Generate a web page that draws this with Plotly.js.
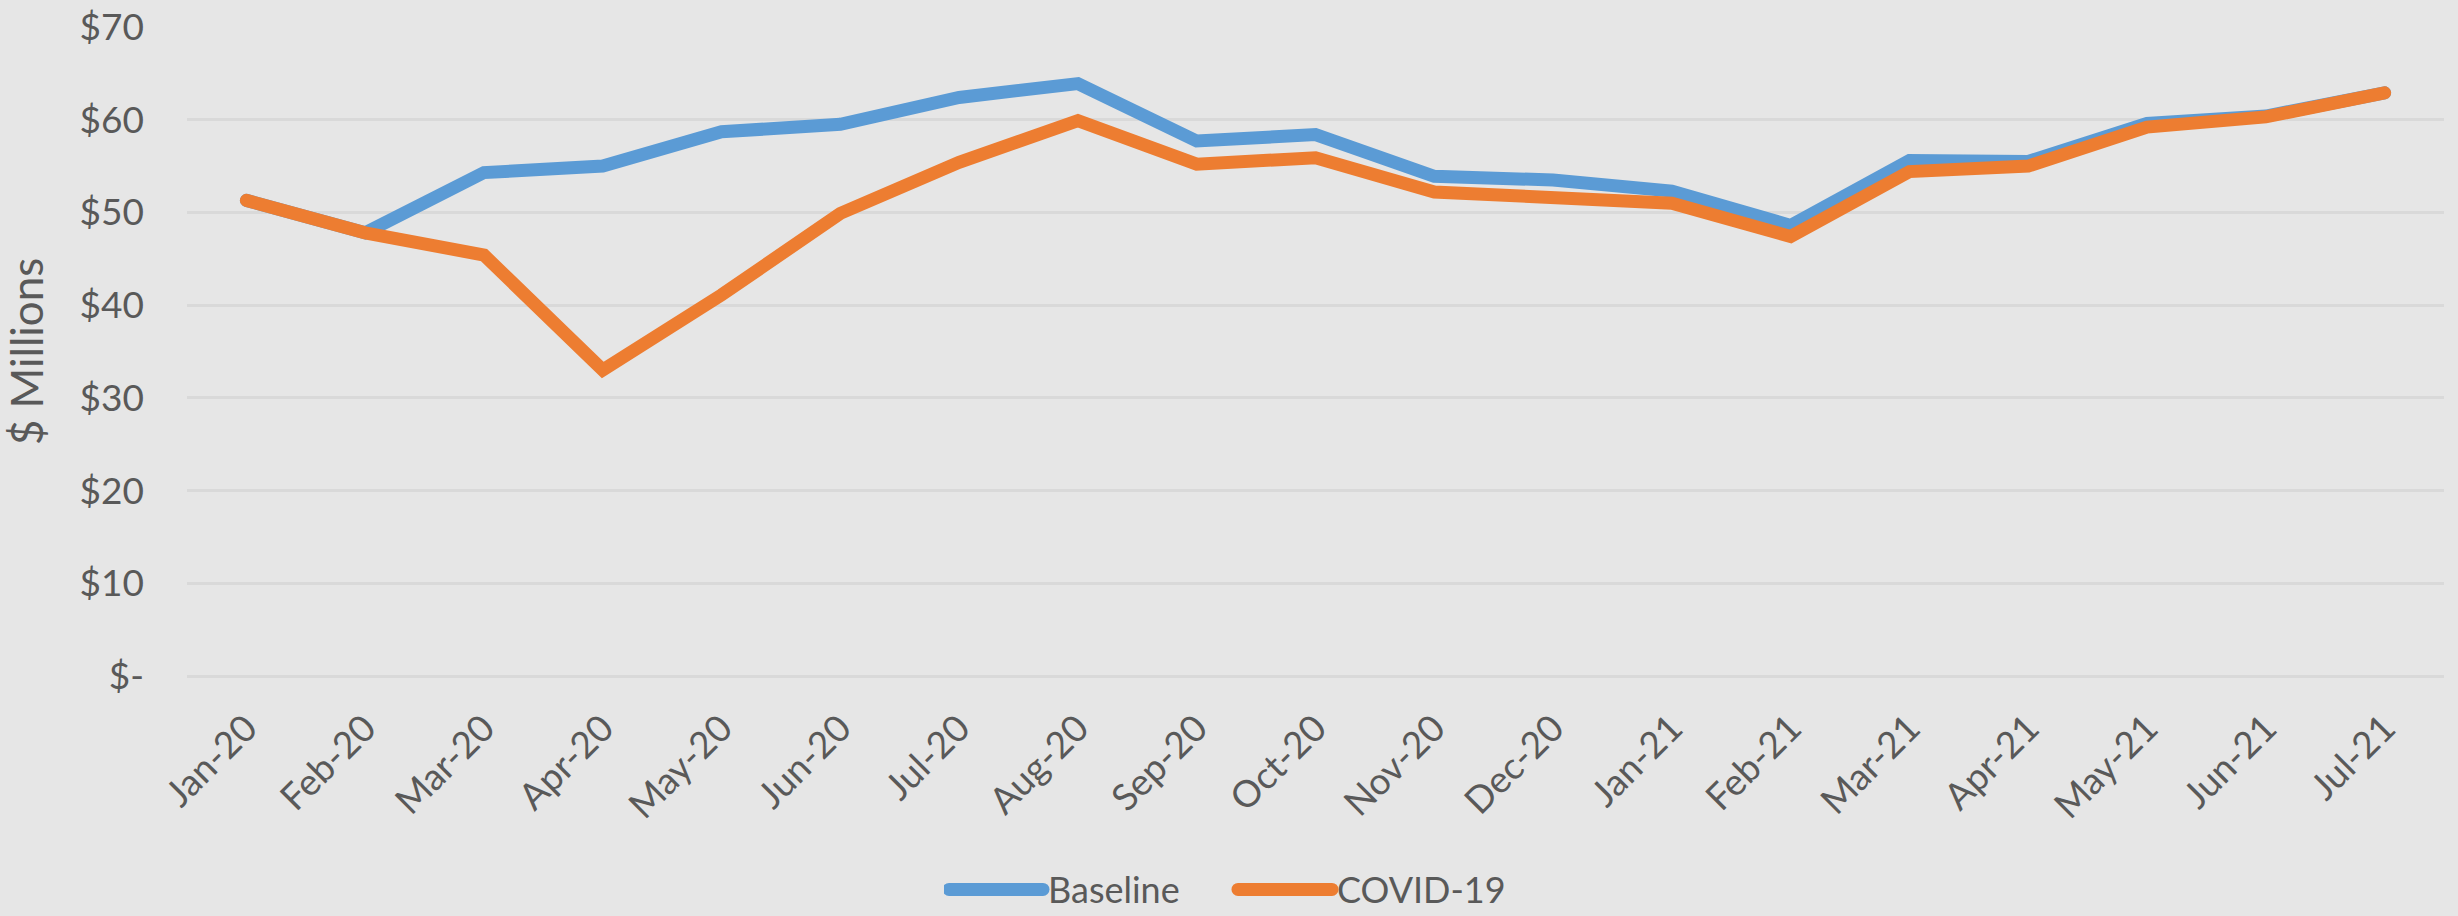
<!DOCTYPE html>
<html>
<head>
<meta charset="utf-8">
<script src="https://cdn.plot.ly/plotly-3.0.1.min.js"></script>
<style>
  html, body { margin: 0; padding: 0; background: #E6E6E6; }
  #chart { width: 2458px; height: 916px; }
  #chart path.js-line { stroke-linecap: round; }
  #chart .legend path.js-line { stroke-width: 13px !important; }
</style>
</head>
<body>
<div id="chart"></div>
<script>
const months = ["Jan-20","Feb-20","Mar-20","Apr-20","May-20","Jun-20","Jul-20","Aug-20","Sep-20","Oct-20",
                "Nov-20","Dec-20","Jan-21","Feb-21","Mar-21","Apr-21","May-21","Jun-21","Jul-21"];
const baseline = [51.3, 47.8, 54.3, 55.0, 58.7, 59.5, 62.4, 63.9, 57.7, 58.4,
                  53.9, 53.5, 52.3, 48.6, 55.6, 55.5, 59.6, 60.4, 62.9];
const covid19  = [51.3, 47.8, 45.4, 33.0, 41.1, 49.9, 55.4, 59.9, 55.2, 55.9,
                  52.2, 51.7, 51.0, 47.4, 54.4, 55.0, 59.2, 60.3, 62.9];
const yTickVals = [0, 10, 20, 30, 40, 50, 60, 70];
const yTickText = ["$-", "$10", "$20", "$30", "$40", "$50", "$60", "$70"];

const textColor = "#595959";
const fontFamily = "Lato, 'Open Sans', sans-serif";

const traces = [
  { x: months, y: baseline, type: "scatter", mode: "lines", name: "Baseline",
    line: { color: "#5B9BD5", width: 13 } },
  { x: months, y: covid19, type: "scatter", mode: "lines", name: "COVID-19",
    line: { color: "#ED7D31", width: 13 } }
];

const layout = {
  width: 2458, height: 916,
  paper_bgcolor: "#E6E6E6", plot_bgcolor: "#E6E6E6",
  margin: { l: 187, r: 14, t: 27, b: 240, autoexpand: false },
  font: { family: fontFamily, color: textColor, size: 37 },
  showlegend: true,
  legend: {
    orientation: "h", x: 0.3354, xanchor: "left", y: -0.329, yanchor: "middle",
    font: { family: fontFamily, size: 36, color: textColor },
    itemwidth: 94, entrywidth: 180, entrywidthmode: "pixels",
    bgcolor: "rgba(0,0,0,0)"
  },
  xaxis: {
    type: "category", range: [-0.5, 18.5], showgrid: false, zeroline: false,
    showline: false, ticks: "", tickangle: -45,
    tickfont: { family: fontFamily, size: 37, color: textColor },
    ticklabelstandoff: 22, automargin: false, fixedrange: true
  },
  yaxis: {
    range: [0, 70], tickvals: yTickVals, ticktext: yTickText,
    showgrid: true, gridcolor: "#D9D9D9", gridwidth: 3,
    zeroline: true, zerolinecolor: "#D9D9D9", zerolinewidth: 3,
    showline: false, ticks: "",
    tickfont: { family: fontFamily, size: 37, color: textColor },
    ticklabelstandoff: 42, automargin: false, fixedrange: true,
    title: { text: "$ Millions", font: { family: fontFamily, size: 44, color: textColor }, standoff: 22 }
  }
};

Plotly.newPlot("chart", traces, layout, { displayModeBar: false, staticPlot: true });
</script>
</body>
</html>
